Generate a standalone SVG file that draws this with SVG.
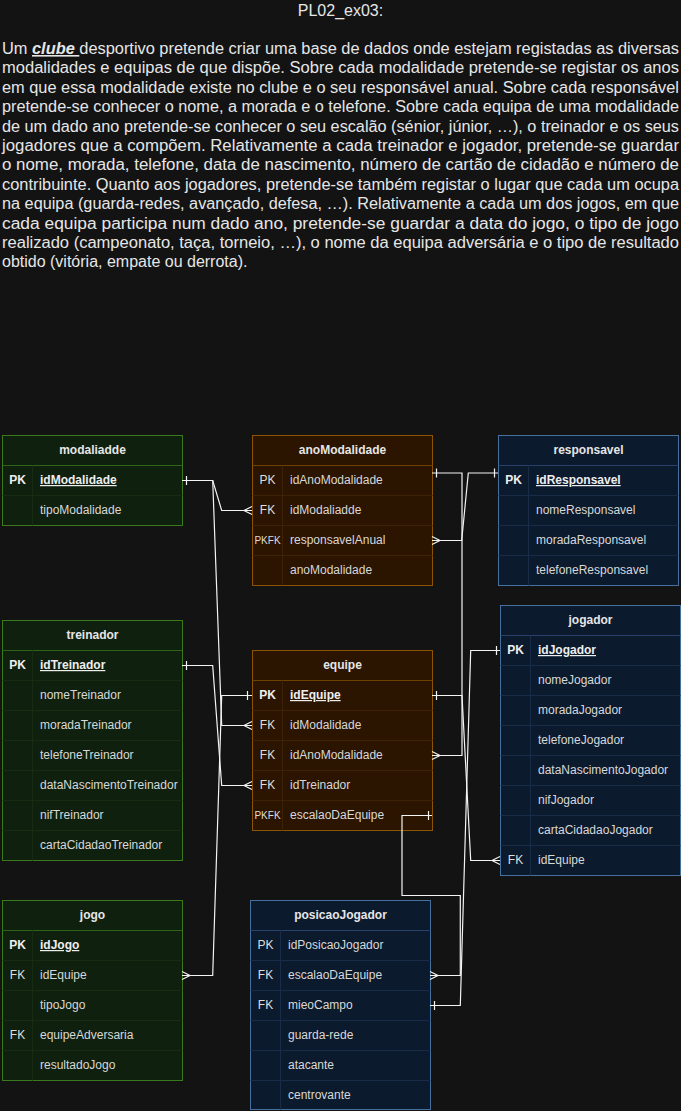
<svg xmlns="http://www.w3.org/2000/svg" width="681" height="1111" viewBox="0 0 681 1111">
<style>
.bg{fill:#131313}
.ptxt{font-family:"Liberation Sans",Arial,sans-serif;font-size:16px;fill:#e6e6e6}
.hdr{font-family:"Liberation Sans",Arial,sans-serif;font-size:12px;font-weight:bold;fill:#e6e6e6;text-anchor:middle}
.key{font-family:"Liberation Sans",Arial,sans-serif;font-size:12px;fill:#dedede;text-anchor:middle}
.pkfk{font-size:10px}
.fld{font-family:"Liberation Sans",Arial,sans-serif;font-size:12px;fill:#d8d8d8}
.b{font-weight:bold;fill:#eeeeee}
.u{text-decoration:underline}
.g .box{fill:#0f200e;stroke:#3a7a1c}
.g .hl{stroke:#2f6418}
.g .rl{stroke:#172c12}
.o .box{fill:#2b1400;stroke:#8b5400}
.o .hl{stroke:#6e4200}
.o .rl{stroke:#3d2208}
.n .box{fill:#0c1a2d;stroke:#46719f}
.n .hl{stroke:#27416a}
.n .rl{stroke:#182b47}
.hl,.rl{stroke-width:1;fill:none}
.edge{fill:none;stroke:#f4f4f4;stroke-width:1.2}
.mk{fill:none;stroke:#f4f4f4;stroke-width:1.2}
</style>
<rect class="bg" x="0" y="0" width="681" height="1111"/>

<g id="title">
<text class="ptxt" x="340.5" y="16" text-anchor="middle">PL02_ex03:</text>
</g>
<g id="description" class="ptxt">
<text x="2" y="54" textLength="677" lengthAdjust="spacingAndGlyphs">Um <tspan font-weight="bold" font-style="italic" text-decoration="underline">clube </tspan>desportivo pretende criar uma base de dados onde estejam registadas as diversas</text>
<text x="2" y="73.4" textLength="677" lengthAdjust="spacingAndGlyphs">modalidades e equipas de que dispõe. Sobre cada modalidade pretende-se registar os anos</text>
<text x="2" y="92.8" textLength="677" lengthAdjust="spacingAndGlyphs">em que essa modalidade existe no clube e o seu responsável anual. Sobre cada responsável</text>
<text x="2" y="112.2" textLength="677" lengthAdjust="spacingAndGlyphs">pretende-se conhecer o nome, a morada e o telefone. Sobre cada equipa de uma modalidade</text>
<text x="2" y="131.6" textLength="677" lengthAdjust="spacingAndGlyphs">de um dado ano pretende-se conhecer o seu escalão (sénior, júnior, …), o treinador e os seus</text>
<text x="2" y="151" textLength="677" lengthAdjust="spacingAndGlyphs">jogadores que a compõem. Relativamente a cada treinador e jogador, pretende-se guardar</text>
<text x="2" y="170.4" textLength="677" lengthAdjust="spacingAndGlyphs">o nome, morada, telefone, data de nascimento, número de cartão de cidadão e número de</text>
<text x="2" y="189.8" textLength="677" lengthAdjust="spacingAndGlyphs">contribuinte. Quanto aos jogadores, pretende-se também registar o lugar que cada um ocupa</text>
<text x="2" y="209.2" textLength="677" lengthAdjust="spacingAndGlyphs">na equipa (guarda-redes, avançado, defesa, …). Relativamente a cada um dos jogos, em que</text>
<text x="2" y="228.6" textLength="677" lengthAdjust="spacingAndGlyphs">cada equipa participa num dado ano, pretende-se guardar a data do jogo, o tipo de jogo</text>
<text x="2" y="248" textLength="677" lengthAdjust="spacingAndGlyphs">realizado (campeonato, taça, torneio, …), o nome da equipa adversária e o tipo de resultado</text>
<text x="2" y="267.4">obtido (vitória, empate ou derrota).</text>
</g>

<g id="modaliadde" class="g">
<rect class="box" x="2.5" y="435.5" width="180" height="90"/>
<path class="hl" d="M2.5,465.5H182.5"/>
<path class="rl" d="M2.5,495.5H182.5M32.5,465.5V525.5"/>
<text class="hdr" x="92.5" y="454">modaliadde</text>
<text class="key b" x="17.5" y="484">PK</text><text class="fld b u" x="40" y="484">idModalidade</text>
<text class="fld" x="40" y="514">tipoModalidade</text>
</g>

<g id="anoModalidade" class="o">
<rect class="box" x="252.5" y="435.5" width="180" height="150"/>
<path class="hl" d="M252.5,465.5H432.5"/>
<path class="rl" d="M252.5,495.5H432.5M252.5,525.5H432.5M252.5,555.5H432.5M282.5,465.5V585.5"/>
<text class="hdr" x="342.5" y="454">anoModalidade</text>
<text class="key" x="267.5" y="484">PK</text><text class="fld" x="290" y="484">idAnoModalidade</text>
<text class="key" x="267.5" y="514">FK</text><text class="fld" x="290" y="514">idModaliadde</text>
<text class="key pkfk" x="267.5" y="543.5">PKFK</text><text class="fld" x="290" y="544">responsavelAnual</text>
<text class="fld" x="290" y="574">anoModalidade</text>
</g>

<g id="responsavel" class="n">
<rect class="box" x="498.5" y="435.5" width="180" height="150"/>
<path class="hl" d="M498.5,465.5H678.5"/>
<path class="rl" d="M498.5,495.5H678.5M498.5,525.5H678.5M498.5,555.5H678.5M528.5,465.5V585.5"/>
<text class="hdr" x="588.5" y="454">responsavel</text>
<text class="key b" x="513.5" y="484">PK</text><text class="fld b u" x="536" y="484">idResponsavel</text>
<text class="fld" x="536" y="514">nomeResponsavel</text>
<text class="fld" x="536" y="544">moradaResponsavel</text>
<text class="fld" x="536" y="574">telefoneResponsavel</text>
</g>

<g id="treinador" class="g">
<rect class="box" x="2.5" y="620.5" width="180" height="240"/>
<path class="hl" d="M2.5,650.5H182.5"/>
<path class="rl" d="M2.5,680.5H182.5M2.5,710.5H182.5M2.5,740.5H182.5M2.5,770.5H182.5M2.5,800.5H182.5M2.5,830.5H182.5M32.5,650.5V860.5"/>
<text class="hdr" x="92.5" y="639">treinador</text>
<text class="key b" x="17.5" y="669">PK</text><text class="fld b u" x="40" y="669">idTreinador</text>
<text class="fld" x="40" y="699">nomeTreinador</text>
<text class="fld" x="40" y="729">moradaTreinador</text>
<text class="fld" x="40" y="759">telefoneTreinador</text>
<text class="fld" x="40" y="789">dataNascimentoTreinador</text>
<text class="fld" x="40" y="819">nifTreinador</text>
<text class="fld" x="40" y="849">cartaCidadaoTreinador</text>
</g>

<g id="equipe" class="o">
<rect class="box" x="252.5" y="650.5" width="180" height="180"/>
<path class="hl" d="M252.5,680.5H432.5"/>
<path class="rl" d="M252.5,710.5H432.5M252.5,740.5H432.5M252.5,770.5H432.5M252.5,800.5H432.5M282.5,680.5V830.5"/>
<text class="hdr" x="342.5" y="669">equipe</text>
<text class="key b" x="267.5" y="699">PK</text><text class="fld b u" x="290" y="699">idEquipe</text>
<text class="key" x="267.5" y="729">FK</text><text class="fld" x="290" y="729">idModalidade</text>
<text class="key" x="267.5" y="759">FK</text><text class="fld" x="290" y="759">idAnoModalidade</text>
<text class="key" x="267.5" y="789">FK</text><text class="fld" x="290" y="789">idTreinador</text>
<text class="key pkfk" x="267.5" y="818.5">PKFK</text><text class="fld" x="290" y="819">escalaoDaEquipe</text>
</g>

<g id="jogador" class="n">
<rect class="box" x="500.5" y="605.5" width="180" height="270"/>
<path class="hl" d="M500.5,635.5H680.5"/>
<path class="rl" d="M500.5,665.5H680.5M500.5,695.5H680.5M500.5,725.5H680.5M500.5,755.5H680.5M500.5,785.5H680.5M500.5,815.5H680.5M500.5,845.5H680.5M530.5,635.5V875.5"/>
<text class="hdr" x="590.5" y="624">jogador</text>
<text class="key b" x="515.5" y="654">PK</text><text class="fld b u" x="538" y="654">idJogador</text>
<text class="fld" x="538" y="684">nomeJogador</text>
<text class="fld" x="538" y="714">moradaJogador</text>
<text class="fld" x="538" y="744">telefoneJogador</text>
<text class="fld" x="538" y="774">dataNascimentoJogador</text>
<text class="fld" x="538" y="804">nifJogador</text>
<text class="fld" x="538" y="834">cartaCidadaoJogador</text>
<text class="key" x="515.5" y="864">FK</text><text class="fld" x="538" y="864">idEquipe</text>
</g>

<g id="jogo" class="g">
<rect class="box" x="2.5" y="900.5" width="180" height="180"/>
<path class="hl" d="M2.5,930.5H182.5"/>
<path class="rl" d="M2.5,960.5H182.5M2.5,990.5H182.5M2.5,1020.5H182.5M2.5,1050.5H182.5M32.5,930.5V1080.5"/>
<text class="hdr" x="92.5" y="919">jogo</text>
<text class="key b" x="17.5" y="949">PK</text><text class="fld b u" x="40" y="949">idJogo</text>
<text class="key" x="17.5" y="979">FK</text><text class="fld" x="40" y="979">idEquipe</text>
<text class="fld" x="40" y="1009">tipoJogo</text>
<text class="key" x="17.5" y="1039">FK</text><text class="fld" x="40" y="1039">equipeAdversaria</text>
<text class="fld" x="40" y="1069">resultadoJogo</text>
</g>

<g id="posicaoJogador" class="n">
<rect class="box" x="250.5" y="900.5" width="180" height="209"/>
<path class="hl" d="M250.5,930.5H430.5"/>
<path class="rl" d="M250.5,960.5H430.5M250.5,990.5H430.5M250.5,1020.5H430.5M250.5,1050.5H430.5M250.5,1080.5H430.5M280.5,930.5V1109.5"/>
<text class="hdr" x="340.5" y="919">posicaoJogador</text>
<text class="key" x="265.5" y="949">PK</text><text class="fld" x="288" y="949">idPosicaoJogador</text>
<text class="key" x="265.5" y="979">FK</text><text class="fld" x="288" y="979">escalaoDaEquipe</text>
<text class="key" x="265.5" y="1009">FK</text><text class="fld" x="288" y="1009">mieoCampo</text>
<text class="fld" x="288" y="1039">guarda-rede</text>
<text class="fld" x="288" y="1069">atacante</text>
<text class="fld" x="288" y="1099">centrovante</text>
</g>

<g id="connectors">
<path class="edge" d="M182,480.5H212.7L221.7,510.5H252"/>
<path class="mk" d="M186.5,476V485M252,506.5L244,510.5L252,514.5"/>
<path class="edge" d="M182,480.5H212.7L221.7,725.5H252"/>
<path class="mk" d="M252,721.5L244,725.5L252,729.5"/>
<path class="edge" d="M182,665.5H212.7L221.7,785.5H252"/>
<path class="mk" d="M186.5,661V670M252,781.5L244,785.5L252,789.5"/>
<path class="edge" d="M252,695.5H221.7L212.7,975.5H182"/>
<path class="mk" d="M247.5,691V700M182,971.5L190,975.5L182,979.5"/>
<path class="edge" d="M432,473H462V755.5H432"/>
<path class="mk" d="M436.5,468.5V477.5M432,751.5L440,755.5L432,759.5"/>
<path class="edge" d="M432,695.5H462L470.7,860.5H500"/>
<path class="mk" d="M436.5,691V700M500,856.5L492,860.5L500,864.5"/>
<path class="edge" d="M432,815.5H402V895.5H460.3V975.5H430"/>
<path class="mk" d="M428.5,811V820M430,971.5L438,975.5L430,979.5"/>
<path class="edge" d="M500,650.5H470.7L460.3,1005.5H430"/>
<path class="mk" d="M496.5,646V655M434.5,1001V1010"/>
<path class="edge" d="M498,473H468.3L461.7,540.5H432"/>
<path class="mk" d="M494.5,468.5V477.5M432,536.5L440,540.5L432,544.5"/>
</g>
</svg>
